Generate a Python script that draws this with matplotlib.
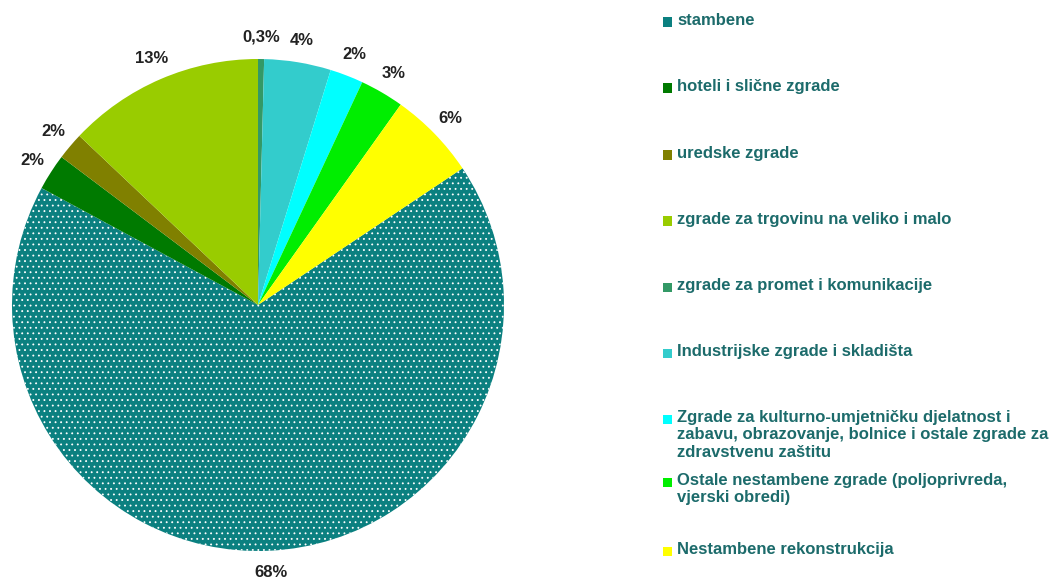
import matplotlib
matplotlib.use('Agg')
import matplotlib.pyplot as plt
from matplotlib.patches import Rectangle
from matplotlib import font_manager

# data (shares; labels as printed)
names = [
    'stambene',
    'hoteli i slične zgrade',
    'uredske zgrade',
    'zgrade za trgovinu na veliko i malo',
    'zgrade za promet i komunikacije',
    'Industrijske zgrade i skladišta',
    'Zgrade za kulturno-umjetničku djelatnost i\nzabavu, obrazovanje, bolnice i ostale zgrade za\nzdravstvenu zaštitu',
    'Ostale nestambene zgrade (poljoprivreda,\nvjerski obredi)',
    'Nestambene rekonstrukcija',
]
shares = [67.6, 2.4, 1.8, 13.0, 0.4, 4.4, 2.2, 2.9, 5.8]
pct_labels = ['68%', '2%', '2%', '13%', '0,3%', '4%', '2%', '3%', '6%']
colors = ['#0B8080', '#007A00', '#808000', '#99CC00', '#339966',
          '#33CCCC', '#00FFFF', '#00EE00', '#FFFF00']

W, H = 1060, 579

avail = {f.name for f in font_manager.fontManager.ttflist}
narrow = 'Liberation Sans Narrow' if 'Liberation Sans Narrow' in avail else 'Liberation Sans'
plt.rcParams['font.family'] = [narrow, 'DejaVu Sans']
plt.rcParams['hatch.color'] = 'white'
plt.rcParams['hatch.linewidth'] = 0.6

fig = plt.figure(figsize=(W / 100, H / 100), dpi=100)

# pie axes: centre (258, 305) px, radius 246 px
cx, cy, r = 258, 305, 246
ax = fig.add_axes([(cx - r) / W, (H - cy - r) / H, 2 * r / W, 2 * r / H])

total = sum(shares)
start = 90 + 360 * sum(shares[:4]) / total  # promet slice begins at 12 o'clock
wedges, texts = ax.pie(shares, labels=pct_labels, colors=colors, radius=1,
                       startangle=start, counterclock=False,
                       labeldistance=1.09,
                       textprops=dict(fontsize=12, fontweight='bold', color='#222222'))
for t in texts:
    t.set_ha('center')
wedges[0].set_hatch('...')
ax.set_xlim(-1, 1)
ax.set_ylim(-1, 1)
ax.axis('off')

# legend, laid out like the Excel original
leg_y = [22, 88, 155, 221, 287, 353, 419, 482, 551]
for name, col, y in zip(names, colors, leg_y):
    rect = Rectangle((663 / W, 1 - (y + 4.5) / H), 9 / W, 9 / H,
                     transform=fig.transFigure, facecolor=col, edgecolor='none',
                     hatch='...' if col == colors[0] else None)
    fig.patches.append(rect)
    fig.text(677 / W, 1 - (y - 9) / H, name, fontsize=12, fontweight='bold',
             color='#1C6B6B', va='top', ha='left', linespacing=1.2)

fig.savefig('out.png', dpi=100)
